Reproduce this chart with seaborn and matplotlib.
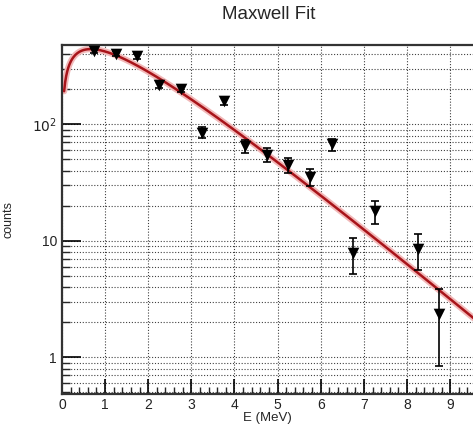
import numpy as np
import pandas as pd
import matplotlib
matplotlib.use("Agg")
import matplotlib.pyplot as plt
import seaborn as sns
from matplotlib.ticker import FixedLocator, FuncFormatter, MultipleLocator

# bin centres (MeV) and counts
energy = [0.75, 1.25, 1.75, 2.25, 2.75, 3.25, 3.75, 4.25, 4.75, 5.25,
          5.75, 6.25, 6.75, 7.25, 8.25, 8.75]
counts = [428, 404, 384, 219, 202, 85, 158, 64.7, 54.9, 45.1,
          35.3, 67.3, 7.85, 18.0, 8.57, 2.34]
errors = [20.7, 20.1, 19.6, 14.8, 14.2, 9.2, 12.6, 8.0, 7.4, 6.7,
          5.9, 8.2, 2.7, 4.0, 2.9, 1.5]

# Maxwell fit parameters: A * sqrt(E) * exp(-E / T)
fit_norm = 893.0
fit_temp = 1.335
fit_range = (0.05, 9.6)

sns.set_style("ticks")
plt.rcParams["font.family"] = ["Liberation Sans", "DejaVu Sans"]
plt.rcParams["xtick.direction"] = "in"
plt.rcParams["ytick.direction"] = "in"

df = pd.DataFrame({"E": energy, "counts": counts, "err": errors})
e_fit = np.linspace(fit_range[0], fit_range[1], 400)
fit = pd.DataFrame({"E": e_fit,
                    "y": fit_norm * np.sqrt(e_fit) * np.exp(-e_fit / fit_temp)})

fig = plt.figure(figsize=(4.73, 4.28), dpi=100)
ax = fig.add_axes([0.131, 0.0794, 0.869, 0.8155])
ax.set_yscale("log")
ax.set_xlim(0, 9.53)
ax.set_ylim(0.484, 480)

# grid like ROOT's dotted grid
ax.set_axisbelow(True)
ax.grid(which="major", axis="x", color="black", linestyle=(0, (1, 1.6)), lw=0.8, alpha=0.75)
ax.grid(which="both", axis="y", color="black", linestyle=(0, (1, 1.6)), lw=0.8, alpha=0.75)

# fit curve with a faint halo
sns.lineplot(data=fit, x="E", y="y", ax=ax, color="#f2b8b8", lw=4.5, zorder=2)
sns.lineplot(data=fit, x="E", y="y", ax=ax, color="#a8141a", lw=1.8, zorder=3)

ax.errorbar(df["E"], df["counts"], yerr=df["err"], fmt="none",
            ecolor="black", elinewidth=1.2, capsize=3, capthick=1.2, zorder=4)
sns.scatterplot(data=df, x="E", y="counts", ax=ax, marker="v", s=70,
                color="black", edgecolor="black", linewidth=0, zorder=5)

ax.xaxis.set_major_locator(MultipleLocator(1))
ax.xaxis.set_minor_locator(MultipleLocator(0.2))
ax.yaxis.set_major_locator(FixedLocator([1, 10, 100]))
ax.yaxis.set_major_formatter(FuncFormatter(
    lambda v, p: {1: "1", 10: "10", 100: r"$10^{2}$"}.get(int(round(v)), "")))

ax.tick_params(which="major", length=14, width=1.2, labelsize=10, colors="black",
               labelcolor="#222222")
ax.tick_params(which="minor", length=6, width=1.0)
ax.tick_params(axis="x", which="major", length=11)
ax.tick_params(axis="x", which="minor", length=5)
ax.tick_params(axis="x", pad=3)

for side in ["left", "bottom", "top"]:
    ax.spines[side].set_color("#333333")
    ax.spines[side].set_linewidth(1.6)
ax.spines["right"].set_visible(False)

ax.set_xlabel("E (MeV)", fontsize=9.5)
ax.xaxis.set_label_coords(0.5, -0.052)
ax.set_ylabel("counts", fontsize=9, labelpad=13)
fig.suptitle("Maxwell Fit", x=0.567, y=0.985, fontsize=13.5)

fig.savefig("out.png", dpi=100, facecolor="white")
